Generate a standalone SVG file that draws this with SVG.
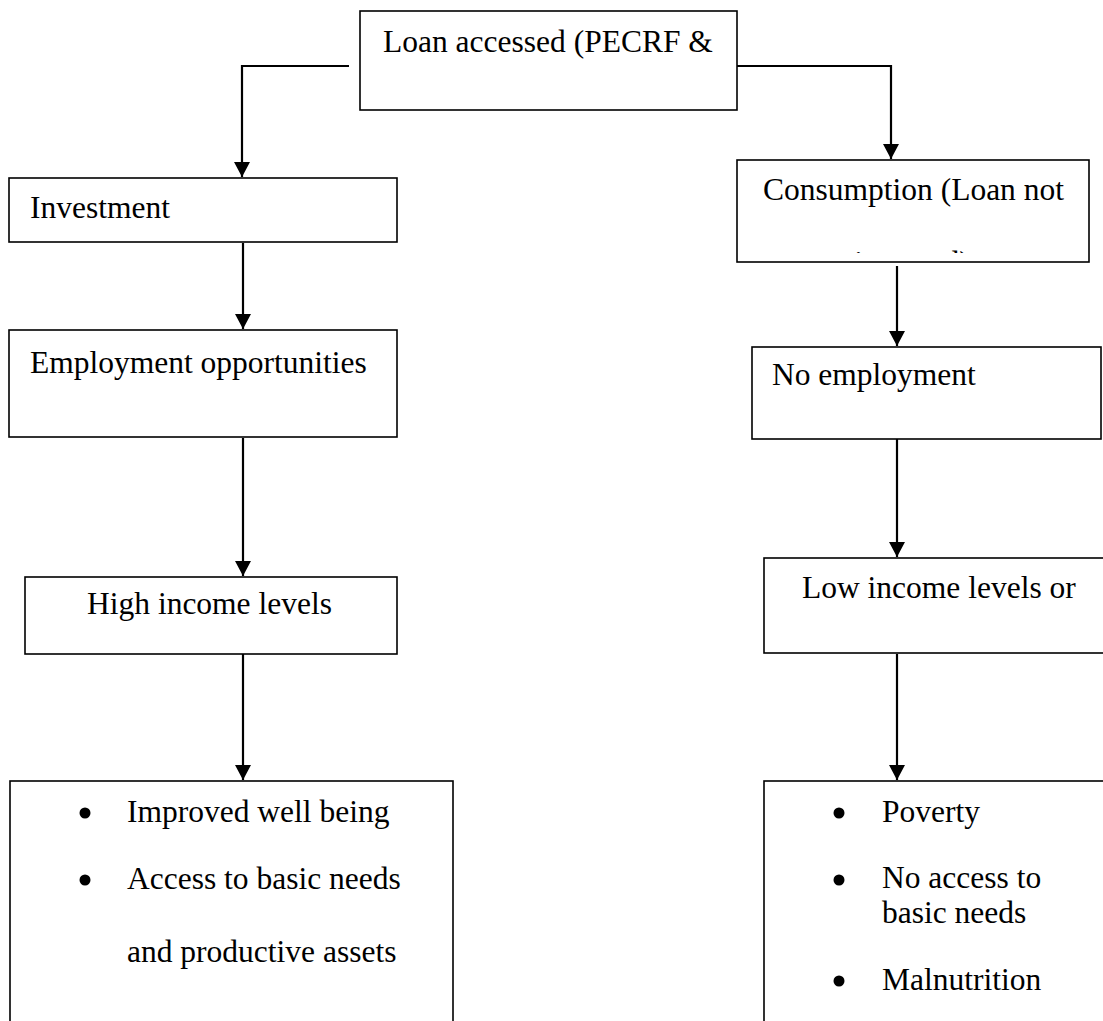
<svg xmlns="http://www.w3.org/2000/svg" width="1103" height="1021" viewBox="0 0 1103 1021">
  <style>
    .box { fill: #fff; stroke: #000; stroke-width: 1.6; }
    .t { font-family: "Liberation Serif", "Times New Roman", serif; font-size: 31.5px; fill: #000; }
    .conn { fill: none; stroke: #000; stroke-width: 2.2; }
  </style>
  <defs>
    <marker id="arr" markerWidth="16" markerHeight="16" refX="15" refY="8" orient="auto" markerUnits="userSpaceOnUse">
      <path d="M0,0 L15,8 L0,16 Z" fill="#000"/>
    </marker>
    <clipPath id="clipCons"><rect x="737" y="160" width="352" height="93"/></clipPath>
  </defs>
  <rect width="1103" height="1021" fill="#fff"/>

  <g id="connectors">
    <path class="conn" d="M349,66 H242 V177" marker-end="url(#arr)"/>
    <path class="conn" d="M737,66 H891 V159" marker-end="url(#arr)"/>
    <path class="conn" d="M243,243 V329" marker-end="url(#arr)"/>
    <path class="conn" d="M243,438 V576" marker-end="url(#arr)"/>
    <path class="conn" d="M243,654 V780" marker-end="url(#arr)"/>
    <path class="conn" d="M897,266 V346" marker-end="url(#arr)"/>
    <path class="conn" d="M897,436 V557" marker-end="url(#arr)"/>
    <path class="conn" d="M897,654 V780" marker-end="url(#arr)"/>
  </g>

  <g id="loan">
    <rect class="box" x="360" y="11" width="377" height="99"/>
    <text class="t" x="383" y="52">Loan accessed (PECRF &amp;</text>
  </g>
  <g id="investment">
    <rect class="box" x="9" y="178" width="388" height="64"/>
    <text class="t" x="30" y="218">Investment</text>
  </g>
  <g id="consumption">
    <rect class="box" x="737" y="160" width="352" height="102"/>
    <g clip-path="url(#clipCons)">
      <text class="t" x="763" y="200">Consumption (Loan not</text>
      <text class="t" x="912" y="273" text-anchor="middle">invested)</text>
    </g>
  </g>
  <g id="employment">
    <rect class="box" x="9" y="330" width="388" height="107"/>
    <text class="t" x="30" y="373">Employment opportunities</text>
  </g>
  <g id="noemployment">
    <rect class="box" x="752" y="347" width="349" height="92"/>
    <text class="t" x="772" y="385">No employment</text>
  </g>
  <g id="highincome">
    <rect class="box" x="25" y="577" width="372" height="77"/>
    <text class="t" x="87" y="614">High income levels</text>
  </g>
  <g id="lowincome">
    <rect class="box" x="764" y="558" width="350" height="95"/>
    <text class="t" x="802" y="598">Low income levels or</text>
  </g>
  <g id="welfare">
    <rect class="box" x="10" y="781" width="443" height="260"/>
    <circle cx="85" cy="813" r="5.5"/>
    <circle cx="85" cy="880" r="5.5"/>
    <text class="t" x="127" y="822">Improved well being</text>
    <text class="t" x="127" y="889">Access to basic needs</text>
    <text class="t" x="127" y="962">and productive assets</text>
  </g>
  <g id="poverty">
    <rect class="box" x="764" y="781" width="350" height="260"/>
    <circle cx="839" cy="813" r="5.5"/>
    <circle cx="839" cy="880" r="5.5"/>
    <circle cx="839" cy="981" r="5.5"/>
    <text class="t" x="882" y="822">Poverty</text>
    <text class="t" x="882" y="888">No access to</text>
    <text class="t" x="882" y="923">basic needs</text>
    <text class="t" x="882" y="990">Malnutrition</text>
  </g>
</svg>
